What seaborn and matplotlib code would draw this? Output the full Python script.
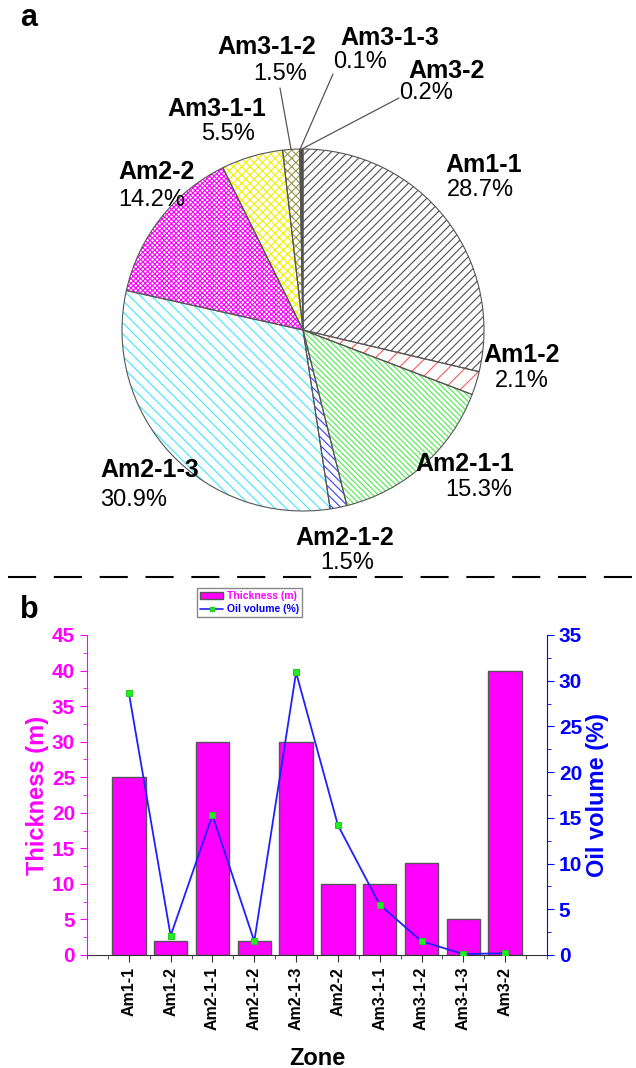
import matplotlib
matplotlib.use("Agg")
import matplotlib.pyplot as plt
from matplotlib.lines import Line2D
from matplotlib.patches import Patch
from matplotlib.ticker import MultipleLocator
import seaborn as sns
import pandas as pd
import numpy as np

# data
zones = ["Am1-1", "Am1-2", "Am2-1-1", "Am2-1-2", "Am2-1-3",
         "Am2-2", "Am3-1-1", "Am3-1-2", "Am3-1-3", "Am3-2"]
oil_volume = [28.7, 2.1, 15.3, 1.5, 30.9, 14.2, 5.5, 1.5, 0.1, 0.2]
thickness = [25, 2, 30, 2, 30, 10, 10, 13, 5, 40]

# pie styling (one per zone)
hatch_colors = ["#505050", "#ff5a5a", "#4cec4c", "#3c3cff", "#3ce8ff",
                "#ff00ff", "#f0f000", "#9a9a50", "#000080", "#404040"]
hatches = ["////", "//", "\\" * 6, "\\" * 4, "\\\\\\", "x" * 7, "xxxx", "xxxx", "", ""]

# label layout in pixels: (name_left, name_y, pct_left, pct_y)
label_pos = {
    "Am1-1": (445, 165, 447, 190),
    "Am1-2": (483, 355, 495, 381),
    "Am2-1-1": (415, 464, 445, 490),
    "Am2-1-2": (295, 538, 320, 563),
    "Am2-1-3": (100, 470, 100, 500),
    "Am2-2": (118, 172, 118, 200),
    "Am3-1-1": (167, 109, 201, 134),
    "Am3-1-2": (217, 47, 253, 74),
    "Am3-1-3": (340, 38, 333, 62),
    "Am3-2": (408, 71, 399, 93),
}
leader_start = {"Am3-1-2": (280, 88), "Am3-1-3": (333, 74), "Am3-2": (399, 98)}

W, H = 636, 1068
sns.set_style("ticks")
plt.rcParams["font.family"] = ["Liberation Sans", "DejaVu Sans"]
plt.rcParams["hatch.linewidth"] = 0.8
plt.rcParams["text.color"] = "black"
plt.rcParams["axes.labelcolor"] = "black"
plt.rcParams["xtick.color"] = "black"

fig = plt.figure(figsize=(W / 100, H / 100), dpi=100)

# ---------- pie (a) ----------
cx, cy, r = 303, 330, 181
ax_pie = fig.add_axes([(cx - r) / W, 1 - (cy + r) / H, 2 * r / W, 2 * r / H])

def to_data(px, py):
    return (px - cx) / r, (cy - py) / r

wedges, _ = ax_pie.pie(oil_volume, startangle=90, counterclock=False,
                       wedgeprops=dict(linewidth=0))
for w, hc, hs in zip(wedges, hatch_colors, hatches):
    w.set_facecolor("white" if hs else hc)
    w.set_edgecolor(hc)
    w.set_hatch(hs)
outline, _ = ax_pie.pie(oil_volume, startangle=90, counterclock=False,
                        colors=["none"] * len(zones),
                        wedgeprops=dict(edgecolor="#555555", linewidth=0.8))
ax_pie.set_xlim(-1, 1)
ax_pie.set_ylim(-1, 1)
ax_pie.set_aspect("equal")
ax_pie.axis("off")

for z, v, w in zip(zones, oil_volume, wedges):
    nx, ny, pxl, pyl = label_pos[z]
    x1, y1 = to_data(nx, ny)
    x2, y2 = to_data(pxl, pyl)
    ax_pie.text(x1, y1, z, fontsize=18, fontweight="bold", ha="left", va="center")
    ax_pie.text(x2, y2, f"{v}%", fontsize=17, ha="left", va="center")
    if z in leader_start:
        mid = np.deg2rad((w.theta1 + w.theta2) / 2)
        sx, sy = to_data(*leader_start[z])
        ax_pie.plot([sx, np.cos(mid)], [sy, np.sin(mid)], color="#555555",
                    lw=0.9, clip_on=False)

# separator and panel letters
fig.add_artist(Line2D([8 / W, 1], [1 - 577 / H] * 2, transform=fig.transFigure,
                      color="black", lw=1.5, dashes=(13.5, 8.5)))
fig.text(20 / W, 1 - 18 / H, "a", fontsize=22, fontweight="bold", va="center")
fig.text(20 / W, 1 - 610 / H, "b", fontsize=22, fontweight="bold", va="center")

# ---------- bar + line (b) ----------
df = pd.DataFrame({"Zone": zones, "Thickness": thickness, "Oil": oil_volume})
ax = fig.add_axes([87 / W, 1 - 955 / H, 460 / W, 320 / H])
sns.barplot(data=df, x="Zone", y="Thickness", color="#ff00ff", saturation=1,
            edgecolor="#555555", linewidth=1, width=0.8, ax=ax)
ax.set_xlim(-1, 10)
ax.set_ylim(0, 45)

ax2 = ax.twinx()
sns.lineplot(x=np.arange(len(zones)), y=df["Oil"], ax=ax2, color="#2020ff",
             lw=1.3, marker="s", markersize=5, markerfacecolor="#22ee22",
             markeredgecolor="#22cc22")
ax2.set_ylim(0, 35)
ax2.set_xlim(-1, 10)

magenta, blue = "#ff00ff", "#0000ff"

ax.yaxis.set_major_locator(MultipleLocator(5))
ax.yaxis.set_minor_locator(MultipleLocator(2.5))
ax.tick_params(axis="y", which="both", colors=magenta, direction="out")
ax.tick_params(axis="y", which="major", length=5, labelsize=15)
ax.tick_params(axis="y", which="minor", length=3)
for t in ax.get_yticklabels():
    t.set_fontweight("bold")
ax.set_ylabel("Thickness (m)", color=magenta, fontsize=17, fontweight="bold",
              labelpad=2)

ax2.yaxis.set_major_locator(MultipleLocator(5))
ax2.yaxis.set_minor_locator(MultipleLocator(2.5))
ax2.tick_params(axis="y", which="both", colors=blue, direction="out")
ax2.tick_params(axis="y", which="major", length=5, labelsize=15)
ax2.tick_params(axis="y", which="minor", length=3)
for t in ax2.get_yticklabels():
    t.set_fontweight("bold")
ax2.set_ylabel("Oil volume (%)", color=blue, fontsize=17, fontweight="bold",
               labelpad=3)

ax.set_xticks(range(len(zones)))
ax.set_xticklabels(zones, rotation=90, fontsize=11.5, fontweight="bold")
ax.xaxis.set_minor_locator(MultipleLocator(0.5))
ax.tick_params(axis="x", which="major", length=5, color="#333333")
ax.tick_params(axis="x", which="minor", length=3, color="#333333")
ax.set_xlabel("Zone", fontsize=17, fontweight="bold", labelpad=12)

for a in (ax, ax2):
    a.spines["top"].set_visible(False)
ax.spines["right"].set_visible(False)
ax2.spines["left"].set_visible(False)
ax2.spines["bottom"].set_visible(False)
ax.spines["left"].set_color(magenta)
ax2.spines["right"].set_color(blue)
ax.spines["bottom"].set_color("#333333")

handles = [Patch(facecolor=magenta, edgecolor="#555555", linewidth=1),
           Line2D([], [], color="#2020ff", lw=1.2, marker="s", markersize=3.5,
                  markerfacecolor="#22ee22", markeredgecolor="#22cc22")]
leg = fig.legend(handles, ["Thickness (m)", "Oil volume (%)"], loc="upper left",
                 bbox_to_anchor=(197 / W, 1 - 588 / H), borderaxespad=0,
                 fancybox=False, edgecolor="#888888", framealpha=1,
                 prop=dict(size=7.5, weight="bold"), handlelength=2.2,
                 handletextpad=0.4, borderpad=0.3, labelspacing=0.3)
for txt, c in zip(leg.get_texts(), [magenta, blue]):
    txt.set_color(c)

fig.savefig("out.png", dpi=100)
